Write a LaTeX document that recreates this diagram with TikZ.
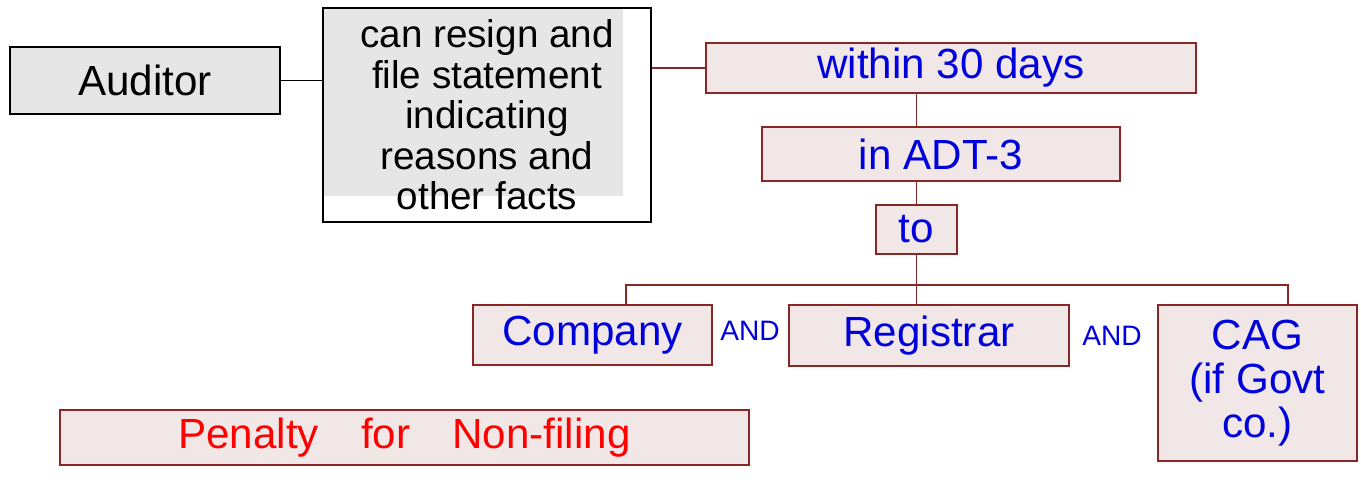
\documentclass[tikz,border=0pt]{standalone}
\usepackage{fontspec}
\setmainfont{Liberation Sans}
\usepackage{xcolor}
\usetikzlibrary{backgrounds}

\definecolor{boxfill}{RGB}{242,231,231}
\definecolor{boxline}{RGB}{139,38,38}
\definecolor{greyfill}{RGB}{230,230,230}
\definecolor{penblue}{RGB}{0,0,220}
\definecolor{penred}{RGB}{255,0,0}

\begin{document}
\begin{tikzpicture}[
        x=0.02cm, y=-0.02cm,
        block/.style={rectangle, draw=boxline, fill=boxfill, line width=0.8pt, inner sep=2pt, align=center, text=penblue, font=\fontsize{24}{25}\selectfont},
        greybox/.style={rectangle, draw=black, fill=greyfill, line width=0.8pt, align=center, font=\fontsize{24}{26}\selectfont},
        note/.style={rectangle, draw=black, line width=0.8pt, align=center, font=\fontsize{22}{23}\selectfont},
        penalty/.style={block, text=penred},
        andlabel/.style={font=\fontsize{16}{18}\selectfont, text=penblue},
        link/.style={draw=boxline, line width=0.8pt},
        blacklink/.style={draw=black, line width=0.8pt},
    ]
    \useasboundingbox (0,0) rectangle (1361,497);
    \node[greybox, minimum width=5.4cm, minimum height=1.34cm] (auditor) at (145,80.5) {Auditor};
    \node[note, minimum width=6.56cm, minimum height=4.28cm] (stmt) at (487,115) {can resign and\\file statement\\indicating\\reasons and\\other facts};
    \node[block, minimum width=9.8cm, minimum height=1cm] (days) at (951,68) {within 30 days};
    \node[block, minimum width=7.16cm, minimum height=1.08cm] (adt) at (941,154) {in ADT-3};
    \node[block, minimum width=1.62cm, minimum height=0.98cm] (to) at (916.5,229.5) {to};
    \node[block, minimum width=4.78cm, minimum height=1.2cm] (company) at (592.5,335) {Company};
    \node[block, minimum width=5.6cm, minimum height=1.22cm] (registrar) at (929,335.5) {Registrar};
    \node[block, minimum width=3.98cm, minimum height=3.12cm] (cag) at (1257.5,383) {CAG\\(if Govt\\co.)};
    \node[penalty, minimum width=13.78cm, minimum height=1.1cm] (penalty) at (404.5,437.5) {Penalty\quad for\quad Non-filing};
    \node[andlabel] (and1) at (750,331) {AND};
    \node[andlabel] (and2) at (1112,336) {AND};
    \coordinate (bar) at (916.5,285);
    % grey patch behind the statement text
    \begin{scope}[on background layer]
        \fill[greyfill] (stmt.north west) rectangle ([xshift=-0.58cm, yshift=0.54cm]stmt.south east);
    \end{scope}
    \draw[blacklink] (auditor.east) -- (auditor.east -| stmt.west);
    \draw[link] (days.west -| stmt.east) -- (days.west);
    \draw[link] (days.south -| to.north) -- (adt.north -| to.north);
    \draw[link] (adt.south -| to.north) -- (to.north);
    \draw[link] (to.south) -- (bar);
    \draw[link] ([xshift=0.67cm]company.north) |- (bar) -| ([xshift=0.61cm]cag.north);
    \draw[link] (bar) -- (registrar.north -| bar);
\end{tikzpicture}
\end{document}
